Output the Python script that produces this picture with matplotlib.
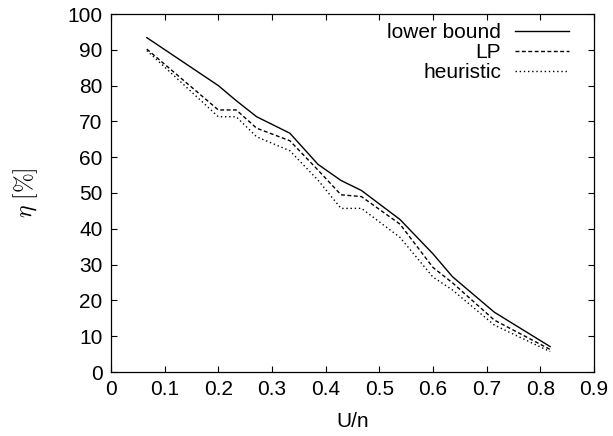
import matplotlib
matplotlib.use("Agg")
import matplotlib.pyplot as plt

# values
u_n = [0.0667, 0.2, 0.2333, 0.2714, 0.3333, 0.3857, 0.4286, 0.4667, 0.5385, 0.6, 0.6364, 0.7143, 0.8182]
lower_bound = [93.4, 80.0, 75.8, 71.3, 66.7, 58.0, 53.5, 50.7, 42.6, 33.0, 26.6, 16.7, 7.1]
lp = [90.2, 73.2, 73.2, 68.1, 64.6, 56.4, 49.5, 49.0, 41.3, 29.2, 24.9, 14.5, 6.3]
heuristic = [89.8, 71.3, 71.3, 65.7, 61.8, 53.6, 45.7, 45.7, 37.6, 26.5, 22.9, 13.1, 5.7]

xticks = [0, 0.1, 0.2, 0.3, 0.4, 0.5, 0.6, 0.7, 0.8, 0.9]
yticks = [0, 10, 20, 30, 40, 50, 60, 70, 80, 90, 100]

plt.rcParams['font.family'] = ['Liberation Sans', 'DejaVu Sans']
plt.rcParams['mathtext.fontset'] = 'cm'
fs = 15

fig = plt.figure(figsize=(6.13, 4.36), dpi=100)
ax = fig.add_axes([111/613, 1-372/436, 483/613, 358/436])

lw = 1.0
ax.plot(u_n, lower_bound, color='black', lw=lw, label='lower bound')
ax.plot(u_n, lp, color='black', lw=lw, dashes=(2.8, 1.8), label='LP')
ax.plot(u_n, heuristic, color='black', lw=lw, dashes=(1.0, 2.0), label='heuristic')

ax.set_xlim(0, 0.9)
ax.set_ylim(0, 100)
ax.set_xticks(xticks)
ax.set_xticklabels(['0'] + ['%.1f' % t for t in xticks[1:]])
ax.set_yticks(yticks)
ax.tick_params(direction='in', length=4.5, width=0.8, top=True, right=True,
               labelsize=fs, pad=6)
for s in ax.spines.values():
    s.set_linewidth(0.9)

ax.set_xlabel('U/n', fontsize=fs, labelpad=9)
ax.set_ylabel(r'$\eta\ [\%]$', fontsize=fs + 2, labelpad=20)

ax.legend(loc='upper right', bbox_to_anchor=(0.948, 0.975), frameon=False,
          markerfirst=False, fontsize=fs, handlelength=2.6, handletextpad=0.65,
          labelspacing=0.05, borderpad=0, borderaxespad=0)

fig.savefig('out.png', dpi=100)
